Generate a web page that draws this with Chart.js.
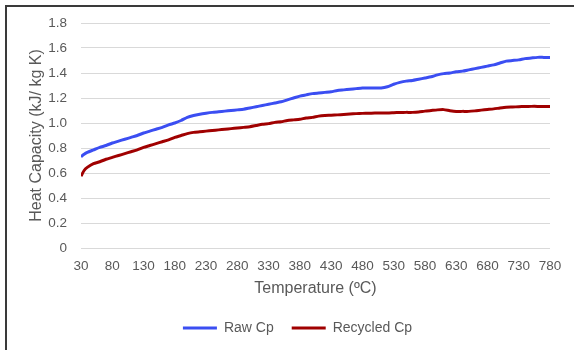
<!DOCTYPE html>
<html>
<head>
<meta charset="utf-8">
<script src="https://cdn.jsdelivr.net/npm/chart.js@4"></script>
<style>
  html, body { margin: 0; padding: 0; background: #fff; overflow: hidden; }
  #wrap { position: relative; width: 574px; height: 350px; }
  #frame {
    position: absolute; left: 5px; top: 5px; width: 567px; height: 400px;
    border-left: 2px solid #3a3a3a; border-top: 2px solid #3a3a3a;
  }
  canvas { position: absolute; left: 0; top: 0; }
</style>
</head>
<body>
<div id="wrap">
  <div id="frame"></div>
  <canvas id="chart" width="574" height="350"></canvas>
</div>
<script>
// Temperatures (ºC) at which Cp was read
const temps = [30, 35, 40, 50, 60, 70, 80, 90, 100, 110, 120, 130, 140, 150, 160, 170, 180, 190, 200,
  210, 220, 230, 240, 250, 260, 270, 280, 290, 300, 310, 320, 330, 340, 350, 360, 370, 380, 390, 400,
  410, 420, 430, 440, 450, 460, 470, 480, 490, 500, 510, 520, 530, 540, 550, 560, 570, 580, 590, 600,
  610, 620, 630, 640, 650, 660, 670, 680, 690, 700, 710, 720, 730, 740, 750, 760, 770, 780];

// Raw Cp (kJ/ kg K)
const rawCp = [0.73, 0.75, 0.765, 0.785, 0.805, 0.82, 0.84, 0.855, 0.87, 0.885, 0.90, 0.92, 0.935, 0.95, 0.965, 0.985, 1.0, 1.02, 1.045,
  1.06, 1.07, 1.078, 1.085, 1.09, 1.095, 1.10, 1.105, 1.11, 1.12, 1.13, 1.14, 1.15, 1.16, 1.17, 1.185, 1.20, 1.215, 1.225, 1.235,
  1.24, 1.245, 1.25, 1.26, 1.265, 1.27, 1.275, 1.28, 1.28, 1.28, 1.28, 1.29, 1.31, 1.325, 1.335, 1.34, 1.35, 1.36, 1.37, 1.385,
  1.395, 1.40, 1.41, 1.415, 1.425, 1.435, 1.445, 1.455, 1.465, 1.48, 1.495, 1.50, 1.505, 1.515, 1.52, 1.525, 1.525, 1.525];

// Recycled Cp (kJ/ kg K)
const recycledCp = [0.575, 0.62, 0.645, 0.675, 0.69, 0.71, 0.725, 0.74, 0.755, 0.77, 0.785, 0.805, 0.82, 0.835, 0.85, 0.865, 0.885, 0.90, 0.915,
  0.925, 0.93, 0.935, 0.94, 0.945, 0.95, 0.955, 0.96, 0.965, 0.97, 0.98, 0.99, 0.995, 1.005, 1.01, 1.02, 1.025, 1.03, 1.04, 1.045,
  1.055, 1.06, 1.062, 1.065, 1.068, 1.072, 1.075, 1.077, 1.078, 1.08, 1.08, 1.08, 1.082, 1.084, 1.085, 1.085, 1.088, 1.095, 1.10, 1.105,
  1.107, 1.098, 1.092, 1.093, 1.093, 1.097, 1.103, 1.108, 1.113, 1.12, 1.126, 1.128, 1.13, 1.132, 1.133, 1.133, 1.133, 1.133];

// Axis tick labels
const xTicks = [30, 80, 130, 180, 230, 280, 330, 380, 430, 480, 530, 580, 630, 680, 730, 780];
const yTicks = [0, 0.2, 0.4, 0.6, 0.8, 1, 1.2, 1.4, 1.6, 1.8];

const FONT = '"Liberation Sans", Arial, sans-serif';
const TEXT = '#595959';

const toPoints = (vals) => temps.map((t, i) => ({ x: t, y: vals[i] }));

// nudge the legend a bit to the right, like the original
const legendShift = {
  id: 'legendShift',
  afterLayout(chart) {
    if (chart.legend) {
      chart.legend.left += 9;
      chart.legend.right += 9;
    }
  }
};

new Chart(document.getElementById('chart'), {
  type: 'line',
  data: {
    datasets: [
      {
        label: 'Raw Cp',
        data: toPoints(rawCp),
        borderColor: '#3b4ef2',
        backgroundColor: '#3b4ef2',
        borderWidth: 3,
        pointRadius: 0,
        tension: 0.2
      },
      {
        label: 'Recycled Cp',
        data: toPoints(recycledCp),
        borderColor: '#a00000',
        backgroundColor: '#a00000',
        borderWidth: 3,
        pointRadius: 0,
        tension: 0.2
      }
    ]
  },
  options: {
    responsive: false,
    animation: false,
    layout: { padding: { left: 27, right: 24, top: 23, bottom: 5 } },
    scales: {
      x: {
        type: 'linear',
        min: 30,
        max: 780,
        afterBuildTicks: (axis) => { axis.ticks = xTicks.map(v => ({ value: v })); },
        afterFit: (axis) => { axis.height = 55; },
        grid: { display: false },
        border: { display: false },
        ticks: {
          font: { family: FONT, size: 13.5 },
          color: TEXT,
          padding: 2,
          maxRotation: 0,
          autoSkip: false
        },
        title: {
          display: true,
          text: 'Temperature (ºC)',
          font: { family: FONT, size: 16 },
          color: TEXT,
          padding: { top: 0, bottom: 5 }
        }
      },
      y: {
        min: 0,
        max: 1.8,
        afterBuildTicks: (axis) => { axis.ticks = yTicks.map(v => ({ value: v })); },
        afterFit: (axis) => { axis.width = 54; },
        grid: { color: '#d9d9d9', lineWidth: 1, drawTicks: false },
        border: { display: false },
        ticks: {
          font: { family: FONT, size: 13.5 },
          color: TEXT,
          padding: 14
        },
        title: {
          display: true,
          text: 'Heat Capacity (kJ/ kg K)',
          font: { family: FONT, size: 16 },
          color: TEXT,
          padding: { top: 0, bottom: 0 }
        }
      }
    },
    plugins: {
      legend: {
        position: 'bottom',
        labels: {
          boxWidth: 34,
          boxHeight: 3,
          padding: 18,
          color: TEXT,
          font: { family: FONT, size: 14 },
          generateLabels: (chart) =>
            Chart.defaults.plugins.legend.labels.generateLabels(chart).map(l => ({ ...l, lineWidth: 0 }))
        }
      },
      tooltip: { enabled: false }
    }
  },
  plugins: [legendShift]
});
</script>
</body>
</html>
